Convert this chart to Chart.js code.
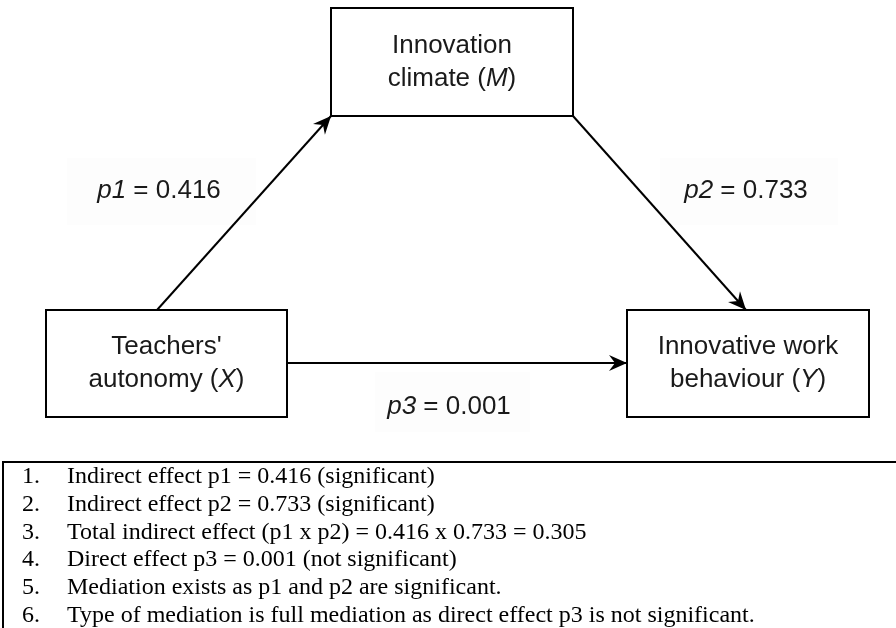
<!DOCTYPE html>
<html>
<head>
<meta charset="utf-8">
<script src="https://cdn.jsdelivr.net/npm/chart.js@4.4.1/dist/chart.umd.min.js"></script>
<style>
  html, body { margin: 0; padding: 0; background: #fff; }
  #wrap { width: 896px; height: 628px; position: relative; }
</style>
</head>
<body>
<div id="wrap"><canvas id="chart"></canvas></div>
<script>
// --- data ---
// node names, *...* = italic
const nodeNames = ["Teachers'\nautonomy (*X*)", 'Innovation\nclimate (*M*)', 'Innovative work\nbehaviour (*Y*)'];
const pathNames = ['p1', 'p2', 'p3'];
const pathValues = [0.416, 0.733, 0.001];
const notes = [
    'Indirect effect p1 = 0.416 (significant)',
    'Indirect effect p2 = 0.733 (significant)',
    'Total indirect effect (p1 x p2) = 0.416 x 0.733 = 0.305',
    'Direct effect p3 = 0.001 (not significant)',
    'Mediation exists as p1 and p2 are significant.',
    'Type of mediation is full mediation as direct effect p3 is not significant.'
];

// --- layout (axis units = px) ---
const boxes = [
    { x: 46, y: 310, w: 241, h: 107 },   // X
    { x: 331, y: 8, w: 242, h: 108 },    // M
    { x: 627, y: 310, w: 242, h: 107 }   // Y
];
// start / end anchors of each path
const pathEnds = [
    { from: [157, 310], to: [331, 116], label: [159, 191], bg: [67, 158, 189, 67] },
    { from: [573, 116], to: [746, 310], label: [746, 191], bg: [660, 158, 178, 67] },
    { from: [287, 363], to: [627, 363], label: [449, 407], bg: [375, 372, 155, 60] }
];

const SANS = '"Liberation Sans", Arial, sans-serif';
const SERIF = '"Liberation Serif", "Times New Roman", serif';

function drawRuns(ctx, str, cx, cy, size) {
    const parts = str.split('*');
    const fonts = parts.map((p, i) => (i % 2 ? 'italic ' : '') + size + 'px ' + SANS);
    let total = 0;
    parts.forEach((p, i) => { ctx.font = fonts[i]; total += ctx.measureText(p).width; });
    let x = cx - total / 2;
    ctx.textAlign = 'left';
    ctx.textBaseline = 'middle';
    parts.forEach((p, i) => {
        ctx.font = fonts[i];
        ctx.fillText(p, x, cy);
        x += ctx.measureText(p).width;
    });
}

function arrowHead(ctx, x0, y0, x1, y1) {
    const a = Math.atan2(y1 - y0, x1 - x0);
    const len = 18, half = 8, notch = 12;
    ctx.save();
    ctx.translate(x1, y1);
    ctx.rotate(a);
    ctx.beginPath();
    ctx.moveTo(0, 0);
    ctx.lineTo(-len, -half);
    ctx.lineTo(-notch, 0);
    ctx.lineTo(-len, half);
    ctx.closePath();
    ctx.fillStyle = '#000';
    ctx.fill();
    ctx.restore();
}

const diagramPlugin = {
    id: 'diagram',
    beforeDatasetsDraw(chart) {
        const { ctx, scales: { x, y } } = chart;
        ctx.save();
        ctx.fillStyle = '#fdfdfd';
        pathEnds.forEach(p => {
            const [bx, by, bw, bh] = p.bg;
            ctx.fillRect(x.getPixelForValue(bx), y.getPixelForValue(by), bw, bh);
        });
        ctx.restore();
    },
    afterDatasetsDraw(chart) {
        const { ctx, scales: { x, y } } = chart;
        ctx.save();

        // arrow heads + labels
        pathEnds.forEach((p, i) => {
            arrowHead(ctx,
                x.getPixelForValue(p.from[0]), y.getPixelForValue(p.from[1]),
                x.getPixelForValue(p.to[0]), y.getPixelForValue(p.to[1]));
            ctx.fillStyle = '#1a1a1a';
            drawRuns(ctx, '*' + pathNames[i] + '* = ' + pathValues[i].toFixed(3),
                x.getPixelForValue(p.label[0]), y.getPixelForValue(p.label[1]), 26);
        });

        // boxes
        boxes.forEach((b, i) => {
            const px = x.getPixelForValue(b.x), py = y.getPixelForValue(b.y);
            ctx.fillStyle = '#fff';
            ctx.fillRect(px, py, b.w, b.h);
            ctx.lineWidth = 2;
            ctx.strokeStyle = '#000';
            ctx.strokeRect(px, py, b.w, b.h);
            ctx.fillStyle = '#1a1a1a';
            const lines = nodeNames[i].split('\n');
            lines.forEach((ln, k) => {
                drawRuns(ctx, ln, px + b.w / 2, py + b.h / 2 + (k - 0.5) * 33, 26);
            });
        });

        // notes box (open at right and bottom)
        const top = y.getPixelForValue(462), left = x.getPixelForValue(3);
        ctx.lineWidth = 2;
        ctx.strokeStyle = '#000';
        ctx.beginPath();
        ctx.moveTo(chart.width, top);
        ctx.lineTo(left, top);
        ctx.lineTo(left, chart.height);
        ctx.stroke();

        ctx.fillStyle = '#000';
        ctx.font = '24px ' + SERIF;
        ctx.textBaseline = 'alphabetic';
        ctx.textAlign = 'left';
        notes.forEach((t, i) => {
            const by = y.getPixelForValue(483 + i * 27.8);
            ctx.fillText((i + 1) + '.', x.getPixelForValue(22), by);
            ctx.fillText(t, x.getPixelForValue(67), by);
        });
        ctx.restore();
    }
};

const edgeData = pathEnds.map(p => ({
    data: [{ x: p.from[0], y: p.from[1] }, { x: p.to[0], y: p.to[1] }],
    showLine: true,
    borderColor: '#000',
    borderWidth: 2,
    pointRadius: 0,
    pointHoverRadius: 0
}));

new Chart(document.getElementById('chart'), {
    type: 'scatter',
    data: { datasets: edgeData },
    options: {
        responsive: true,
        maintainAspectRatio: false,
        animation: false,
        events: [],
        layout: { padding: 0 },
        plugins: { legend: { display: false }, tooltip: { enabled: false } },
        scales: {
            x: { type: 'linear', min: 0, max: 896, display: false },
            y: { type: 'linear', min: 0, max: 628, reverse: true, display: false }
        }
    },
    plugins: [diagramPlugin]
});
</script>
</body>
</html>
